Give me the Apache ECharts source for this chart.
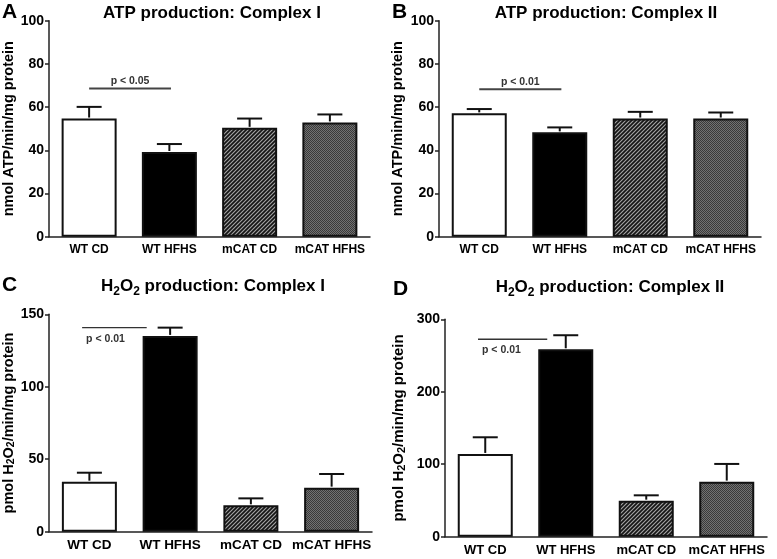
<!DOCTYPE html>
<html>
<head>
<meta charset="utf-8">
<script src="https://cdn.jsdelivr.net/npm/echarts@6/dist/echarts.min.js"></script>
<style>html,body{margin:0;padding:0;background:#fff}#c{width:777px;height:559px}</style>
</head>
<body>
<div id="c"></div>
<script>
// ---- data ----
const categories = ['WT CD', 'WT HFHS', 'mCAT CD', 'mCAT HFHS'];
const atpC1Mean = [54.7, 39.2, 50.4, 52.9];
const atpC1Err  = [60.1, 42.9, 54.7, 56.6];
const atpC2Mean = [57.1, 48.3, 54.7, 54.7];
const atpC2Err  = [59.1, 50.6, 57.8, 57.5];
const h2o2C1Mean = [34.5, 135.1, 18.2, 30.4];
const h2o2C1Err  = [40.7, 140.8, 23.0, 39.8];
const h2o2C2Mean = [114.2, 258.6, 49.7, 76.0];
const h2o2C2Err  = [137.2, 278.0, 57.1, 100.4];
const panelTitles = ['ATP production: Complex I', 'ATP production: Complex II',
  'H{sub|2}O{sub|2} production: Complex I', 'H{sub|2}O{sub|2} production: Complex II'];
const panelLetters = ['A', 'B', 'C', 'D'];
const yNames = ['nmol ATP/min/mg protein', 'nmol ATP/min/mg protein',
  'pmol H{sub|2}O{sub|2}/min/mg protein', 'pmol H{sub|2}O{sub|2}/min/mg protein'];
const yMax = [100, 100, 150, 300];
const yInterval = [20, 20, 50, 100];
const sigLabels = ['p < 0.05', 'p < 0.01', 'p < 0.01', 'p < 0.01'];
const sigY = [68.6, 68.3, 140.8, 272.5];
const sigStart = [0, 0, -0.09, -0.09];
const sigEnd = [1.02, 1.02, 0.71, 0.77];

// ---- patterns ----
function stripePattern() {
  const c = document.createElement('canvas');
  c.width = 4; c.height = 4;
  const g = c.getContext('2d');
  g.fillStyle = '#a4a4a4'; g.fillRect(0, 0, 4, 4);
  g.strokeStyle = '#151515'; g.lineWidth = 1.7;
  g.beginPath();
  g.moveTo(-1, 5); g.lineTo(5, -1);
  g.moveTo(-1, 1); g.lineTo(1, -1);
  g.moveTo(3, 5); g.lineTo(5, 3);
  g.stroke();
  return { image: c, repeat: 'repeat' };
}
function finePattern() {
  const c = document.createElement('canvas');
  c.width = 2; c.height = 2;
  const g = c.getContext('2d');
  g.fillStyle = '#727272'; g.fillRect(0, 0, 2, 2);
  g.fillStyle = '#3a3a3a'; g.fillRect(0, 0, 1, 1); g.fillRect(1, 1, 1, 1);
  return { image: c, repeat: 'repeat' };
}
const barColors = ['#ffffff', '#000000', stripePattern(), finePattern()];

const means = [atpC1Mean, atpC2Mean, h2o2C1Mean, h2o2C2Mean];
const errs = [atpC1Err, atpC2Err, h2o2C1Err, h2o2C2Err];

const grids = [
  { left: 48, top: 20.7, width: 322, height: 216 },
  { left: 439, top: 20.7, width: 322, height: 216 },
  { left: 46, top: 314.3, width: 326, height: 217.4 },
  { left: 445, top: 319.3, width: 322, height: 217.4 }
];
const xLabelSize = [12, 12, 13.5, 13];
const yNameGap = [33, 34, 30, 38];
const yNameSize = [14.5, 14.5, 14.5, 15];
const titlePos = [[212, 13], [606, 13], [213, 286], [610, 287]];
const letterPos = [[2, 12], [392, 12], [2, 285], [393, 289]];

const subRich = (size) => ({
  sub: { fontSize: size, fontWeight: 'bold', fontFamily: 'Liberation Sans, Arial', color: '#000', verticalAlign: 'bottom', lineHeight: size + 6 }
});

const xAxis = [], yAxis = [], series = [], graphic = [];
for (let i = 0; i < 4; i++) {
  xAxis.push({
    type: 'category', gridIndex: i, data: categories,
    axisLine: { lineStyle: { color: '#222', width: 1.5 } },
    axisTick: { alignWithLabel: true, length: 4, lineStyle: { color: '#222', width: 1.5 } },
    axisLabel: { color: '#000', fontWeight: 'bold', fontSize: xLabelSize[i], fontFamily: 'Liberation Sans, Arial', margin: 7, interval: 0 }
  });
  yAxis.push({
    type: 'value', gridIndex: i, min: 0, max: yMax[i], interval: yInterval[i],
    name: yNames[i], nameLocation: 'middle', nameGap: yNameGap[i],
    nameTextStyle: { color: '#000', fontWeight: 'bold', fontSize: yNameSize[i], fontFamily: 'Liberation Sans, Arial', rich: subRich(yNameSize[i] - 4) },
    axisLine: { show: true, lineStyle: { color: '#222', width: 1.5 } },
    axisTick: { show: true, length: 4, lineStyle: { color: '#222', width: 1.5 } },
    splitLine: { show: false },
    axisLabel: { color: '#000', fontWeight: 'bold', fontSize: 14, fontFamily: 'Liberation Sans, Arial', margin: 5 }
  });
  series.push({
    type: 'bar', xAxisIndex: i, yAxisIndex: i, barWidth: 55,
    data: means[i].map((v, k) => ({ value: v, itemStyle: { color: barColors[k] } })),
    itemStyle: { borderColor: '#111', borderWidth: 2 },
    silent: true, animation: false
  });
  series.push({
    type: 'custom', xAxisIndex: i, yAxisIndex: i, animation: false, silent: true,
    data: means[i].map((v, k) => [k, v, errs[i][k]]),
    renderItem: function (params, api) {
      const p0 = api.coord([api.value(0), api.value(1)]);
      const p1 = api.coord([api.value(0), api.value(2)]);
      const st = { stroke: '#111', lineWidth: 2 };
      return { type: 'group', children: [
        { type: 'line', shape: { x1: p0[0], y1: p0[1] - 1, x2: p1[0], y2: p1[1] }, style: st },
        { type: 'line', shape: { x1: p1[0] - 12.5, y1: p1[1], x2: p1[0] + 12.5, y2: p1[1] }, style: st }
      ] };
    },
    z: 3
  });
  const below = i >= 2;
  series.push({
    type: 'custom', xAxisIndex: i, yAxisIndex: i, animation: false, silent: true,
    data: [[sigStart[i], sigEnd[i], sigY[i]]],
    renderItem: function (params, api) {
      const c0 = api.coord([0, api.value(2)]);
      const c1 = api.coord([1, api.value(2)]);
      const band = c1[0] - c0[0];
      const xa = c0[0] + api.value(0) * band;
      const xb = c0[0] + api.value(1) * band;
      const y = c0[1];
      return { type: 'group', children: [
        { type: 'line', shape: { x1: xa, y1: y, x2: xb, y2: y }, style: { stroke: below ? '#333' : '#444', lineWidth: below ? 1.3 : 2 } },
        { type: 'text', x: below ? xa + 4 : (xa + xb) / 2, y: below ? y + 11 : y - 7,
          style: { text: sigLabels[i], fill: '#333', font: '600 10.5px Liberation Sans, Arial',
                   align: below ? 'left' : 'center', verticalAlign: 'middle', textAlign: below ? 'left' : 'center', textVerticalAlign: 'middle' } }
      ] };
    },
    z: 4
  });
  graphic.push({
    type: 'text', x: titlePos[i][0], y: titlePos[i][1],
    style: { text: panelTitles[i], fill: '#000', font: 'bold 17px Liberation Sans, Arial',
             align: 'center', verticalAlign: 'middle', textAlign: 'center', textVerticalAlign: 'middle',
             rich: { sub: { fontSize: 12, fontWeight: 'bold', fontFamily: 'Liberation Sans, Arial', fill: '#000', verticalAlign: 'bottom', lineHeight: 23 } } }
  });
  graphic.push({
    type: 'text', x: letterPos[i][0], y: letterPos[i][1],
    style: { text: panelLetters[i], fill: '#000', font: 'bold 21px Liberation Sans, Arial',
             align: 'left', verticalAlign: 'middle', textAlign: 'left', textVerticalAlign: 'middle' }
  });
}

const chart = echarts.init(document.getElementById('c'), null, { renderer: 'canvas' });
chart.setOption({
  backgroundColor: '#ffffff',
  animation: false,
  grid: grids,
  xAxis: xAxis,
  yAxis: yAxis,
  series: series,
  graphic: graphic
});
</script>
</body>
</html>
